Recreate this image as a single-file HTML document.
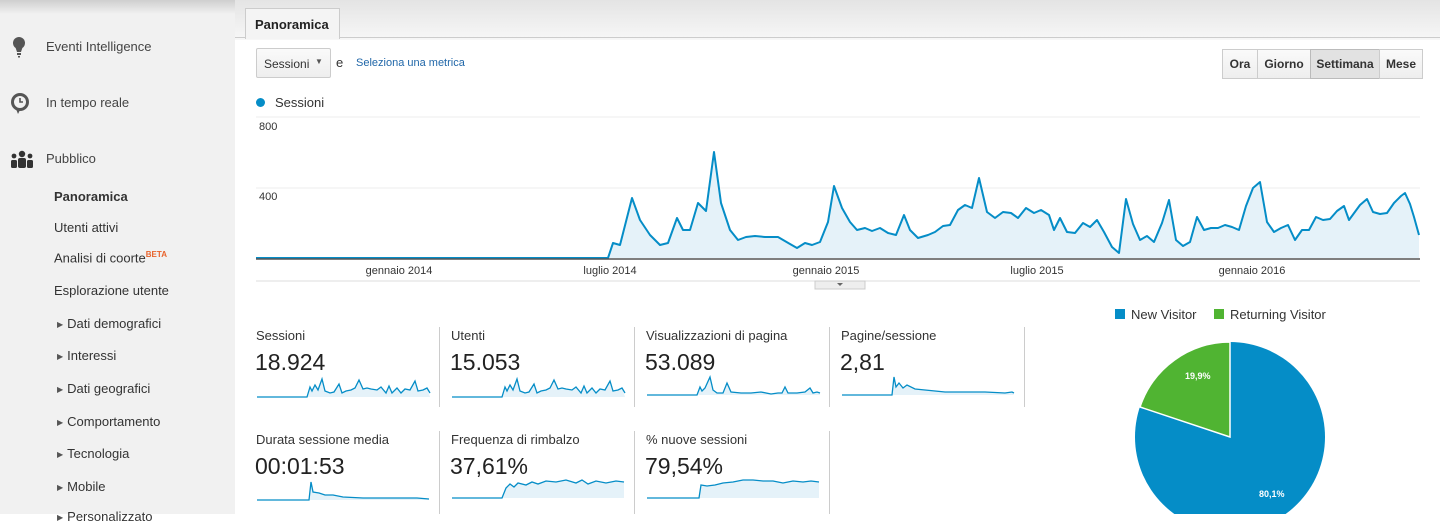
<!DOCTYPE html>
<html><head><meta charset="utf-8"><style>
*{margin:0;padding:0;box-sizing:border-box}
body{width:1440px;height:514px;overflow:hidden;background:#fff;font-family:"Liberation Sans",Arial,sans-serif;position:relative;color:#333}
.a{position:absolute;white-space:nowrap}
#side{position:absolute;left:0;top:0;width:235px;height:514px;background:#f1f1f1}
#topsh{position:absolute;left:0;top:0;width:1440px;height:14px;background:linear-gradient(#cfcfcf,rgba(240,240,240,0))}
.nav{font-size:13px;color:#444}
.sub{font-size:13px;color:#333}
.tri{font-size:8px;color:#555;margin-right:4px;vertical-align:1px}
.btn{position:absolute;top:49px;height:30px;border:1px solid #ccc;background:linear-gradient(#fafafa,#eee);font-size:12px;font-weight:bold;color:#333;text-align:center;line-height:28px}
.ml{font-size:13px;color:#333}
.mv{font-size:23px;color:#222}
.sep{position:absolute;width:1px;background:#ccc}
</style></head><body>
<div id="side"></div>
<div id="topsh"></div>
<div class="a" style="left:235px;top:0;width:1205px;height:40px;background:linear-gradient(#e4e4e4,#f7f7f7)"></div>
<div class="a" style="left:235px;top:37px;width:1205px;height:1px;background:#ccc"></div>
<div class="a" style="left:245px;top:8px;width:95px;height:31px;background:#f4f4f4;border:1px solid #ccc;border-bottom:none;font-weight:bold;font-size:13px;padding:8px 0 0 9px;color:#222">Panoramica</div>

<svg class="a" style="left:10px;top:36px" width="20" height="24"><circle cx="9" cy="7" r="6" fill="#555"/><path d="M5 10 L13 10 L11 16 L7 16Z" fill="#555"/><rect x="7" y="17" width="4" height="2" fill="#555"/><rect x="8" y="20" width="2" height="1.5" fill="#555"/></svg>
<div class="a nav" style="left:46px;top:39px">Eventi Intelligence</div>
<svg class="a" style="left:10px;top:92px" width="22" height="24"><circle cx="10" cy="10" r="9" fill="#555"/><circle cx="10" cy="10" r="6" fill="#f1f1f1"/><path d="M10 6 V10 H13" stroke="#555" stroke-width="1.6" fill="none"/><path d="M6 17 L8 22 L10 18Z" fill="#555"/></svg>
<div class="a nav" style="left:46px;top:95px">In tempo reale</div>
<svg class="a" style="left:10px;top:150px" width="24" height="18"><circle cx="12" cy="4" r="3.2" fill="#333"/><circle cx="4" cy="6" r="2.4" fill="#333"/><circle cx="20" cy="6" r="2.4" fill="#333"/><rect x="8" y="8" width="8" height="10" rx="2" fill="#333"/><rect x="1" y="10" width="6" height="8" rx="1.5" fill="#333"/><rect x="17" y="10" width="6" height="8" rx="1.5" fill="#333"/></svg>
<div class="a nav" style="left:46px;top:151px">Pubblico</div>
<div class="a sub" style="left:54px;top:189px;font-weight:bold">Panoramica</div>
<div class="a sub" style="left:54px;top:220px">Utenti attivi</div>
<div class="a sub" style="left:54px;top:250px">Analisi di coorte<sup style="font-size:8px;color:#e8632c;font-weight:bold">BETA</sup></div>
<div class="a sub" style="left:54px;top:283px">Esplorazione utente</div>
<div class="a sub" style="left:57px;top:316px"><span class="tri">▶</span>Dati demografici</div>
<div class="a sub" style="left:57px;top:348px"><span class="tri">▶</span>Interessi</div>
<div class="a sub" style="left:57px;top:381px"><span class="tri">▶</span>Dati geografici</div>
<div class="a sub" style="left:57px;top:414px"><span class="tri">▶</span>Comportamento</div>
<div class="a sub" style="left:57px;top:446px"><span class="tri">▶</span>Tecnologia</div>
<div class="a sub" style="left:57px;top:479px"><span class="tri">▶</span>Mobile</div>
<div class="a sub" style="left:57px;top:509px"><span class="tri">▶</span>Personalizzato</div>

<div class="a" style="left:256px;top:48px;width:75px;height:30px;border:1px solid #ccc;border-radius:2px;background:linear-gradient(#fafafa,#eee);font-size:12px;padding:8px 0 0 7px;color:#333">Sessioni</div>
<div class="a" style="left:315px;top:57px;font-size:8px;color:#555">▼</div>
<div class="a" style="left:336px;top:55px;font-size:13px">e</div>
<div class="a" style="left:356px;top:57px;font-size:11px;color:#1f66a8">Seleziona una metrica</div>
<div class="btn" style="left:1222px;width:36px">Ora</div>
<div class="btn" style="left:1257px;width:54px">Giorno</div>
<div class="btn" style="left:1310px;width:70px;background:#e2e2e2;border-color:#bbb">Settimana</div>
<div class="btn" style="left:1379px;width:44px">Mese</div>

<div class="a" style="left:256px;top:98px;width:9px;height:9px;border-radius:50%;background:#058dc7"></div>
<div class="a" style="left:275px;top:95px;font-size:13px;color:#333">Sessioni</div>

<svg class="a" style="left:0;top:0" width="1440" height="300">
<line x1="256" y1="117" x2="1420" y2="117" stroke="#eee"/>
<line x1="256" y1="188" x2="1420" y2="188" stroke="#eee"/>
<text x="259" y="130" font-size="11" fill="#333" font-family="Liberation Sans">800</text>
<text x="259" y="200" font-size="11" fill="#333" font-family="Liberation Sans">400</text>
<polygon fill="#e5f2f9" points="256,258 608,258 613,243 620,245 632,198 640,220 650,235 660,245 668,243 677,218 683,230 690,230 698,203 706,211 714,152 721,203 730,230 738,240 746,237 755,236 765,237 778,237 790,244 797,248 805,243 812,245 820,242 828,222 834,186 842,208 850,222 857,230 865,228 872,231 880,228 888,233 896,235 904,215 910,230 918,238 928,235 935,232 943,226 950,225 958,210 965,205 972,208 979,178 987,212 995,218 1003,212 1011,213 1018,218 1026,208 1034,213 1041,210 1049,215 1054,230 1060,218 1067,232 1075,233 1083,223 1090,227 1097,220 1104,232 1112,247 1119,253 1126,199 1133,224 1140,240 1147,236 1154,242 1162,223 1169,200 1176,240 1183,246 1190,242 1197,217 1204,230 1211,228 1218,228 1225,225 1232,227 1239,230 1246,206 1253,188 1260,182 1267,222 1274,232 1281,228 1288,225 1295,240 1302,230 1309,230 1316,217 1323,220 1330,219 1337,211 1344,206 1349,220 1360,205 1367,199 1373,212 1380,214 1387,213 1394,203 1401,196 1405,193 1410,204 1414,217 1419,235 1419,258"/>
<polyline fill="none" stroke="#058dc7" stroke-width="2" stroke-linejoin="round" points="256,258 608,258 613,243 620,245 632,198 640,220 650,235 660,245 668,243 677,218 683,230 690,230 698,203 706,211 714,152 721,203 730,230 738,240 746,237 755,236 765,237 778,237 790,244 797,248 805,243 812,245 820,242 828,222 834,186 842,208 850,222 857,230 865,228 872,231 880,228 888,233 896,235 904,215 910,230 918,238 928,235 935,232 943,226 950,225 958,210 965,205 972,208 979,178 987,212 995,218 1003,212 1011,213 1018,218 1026,208 1034,213 1041,210 1049,215 1054,230 1060,218 1067,232 1075,233 1083,223 1090,227 1097,220 1104,232 1112,247 1119,253 1126,199 1133,224 1140,240 1147,236 1154,242 1162,223 1169,200 1176,240 1183,246 1190,242 1197,217 1204,230 1211,228 1218,228 1225,225 1232,227 1239,230 1246,206 1253,188 1260,182 1267,222 1274,232 1281,228 1288,225 1295,240 1302,230 1309,230 1316,217 1323,220 1330,219 1337,211 1344,206 1349,220 1360,205 1367,199 1373,212 1380,214 1387,213 1394,203 1401,196 1405,193 1410,204 1414,217 1419,235"/>
<line x1="256" y1="259" x2="1420" y2="259" stroke="#555" stroke-width="1.5"/>
<g font-size="11" fill="#333" font-family="Liberation Sans" text-anchor="middle">
<text x="399" y="274">gennaio 2014</text><text x="610" y="274">luglio 2014</text><text x="826" y="274">gennaio 2015</text><text x="1037" y="274">luglio 2015</text><text x="1252" y="274">gennaio 2016</text></g>
<line x1="256" y1="281" x2="1420" y2="281" stroke="#ddd"/>
<rect x="815" y="281" width="50" height="8" fill="#eee" stroke="#ccc"/>
<path d="M837 283 L843 283 L840 286Z" fill="#666"/>
</svg>

<div class="a ml" style="left:256px;top:328px">Sessioni</div><div class="a mv" style="left:255px;top:349px">18.924</div>
<div class="a ml" style="left:451px;top:328px">Utenti</div><div class="a mv" style="left:450px;top:349px">15.053</div>
<div class="a ml" style="left:646px;top:328px">Visualizzazioni di pagina</div><div class="a mv" style="left:645px;top:349px">53.089</div>
<div class="a ml" style="left:841px;top:328px">Pagine/sessione</div><div class="a mv" style="left:840px;top:349px">2,81</div>
<div class="a ml" style="left:256px;top:432px">Durata sessione media</div><div class="a mv" style="left:255px;top:453px">00:01:53</div>
<div class="a ml" style="left:451px;top:432px">Frequenza di rimbalzo</div><div class="a mv" style="left:450px;top:453px">37,61%</div>
<div class="a ml" style="left:646px;top:432px">% nuove sessioni</div><div class="a mv" style="left:645px;top:453px">79,54%</div>
<div class="sep" style="left:439px;top:327px;height:80px"></div>
<div class="sep" style="left:634px;top:327px;height:80px"></div>
<div class="sep" style="left:829px;top:327px;height:80px"></div>
<div class="sep" style="left:1024px;top:327px;height:80px"></div>
<div class="sep" style="left:439px;top:431px;height:83px"></div>
<div class="sep" style="left:634px;top:431px;height:83px"></div>
<div class="sep" style="left:829px;top:431px;height:83px"></div>

<svg class="a" style="left:0;top:0" width="1100" height="514">
<defs>
<g id="s1"><polygon fill="#e5f2f9" points="0,20 50,20 53,10 55,14 58,8 61,13 65,2 68,14 73,16 77,15 82,7 85,16 89,14 94,13 98,11 102,3 106,12 110,11 114,12 120,13 124,10 129,16 132,9 135,16 140,11 144,16 148,12 153,13 158,4 161,14 166,13 170,11 173,20"/><polyline fill="none" stroke="#058dc7" stroke-width="1.3" points="0,20 50,20 53,10 55,14 58,8 61,13 65,2 68,14 73,16 77,15 82,7 85,16 89,14 94,13 98,11 102,3 106,12 110,11 114,12 120,13 124,10 129,16 132,9 135,16 140,11 144,16 148,12 153,13 158,4 161,14 166,13 170,11 173,16"/></g>
<g id="s3"><polygon fill="#e5f2f9" points="0,20 50,20 53,12 55,16 58,13 63,2 66,15 70,18 76,18 80,8 84,17 94,18 104,18 114,17 124,19 131,18 135,18 138,12 141,18 150,18 158,17 163,13 166,18 170,17 173,18 173,20"/><polyline fill="none" stroke="#058dc7" stroke-width="1.3" points="0,20 50,20 53,12 55,16 58,13 63,2 66,15 70,18 76,18 80,8 84,17 94,18 104,18 114,17 124,19 131,18 135,18 138,12 141,18 150,18 158,17 163,13 166,18 170,17 173,18"/></g>
<g id="s4"><polygon fill="#e5f2f9" points="0,20 50,20 52,2 54,12 57,8 61,13 65,10 73,14 83,15 93,16 103,17 123,17 143,17 163,18 170,17 172,20"/><polyline fill="none" stroke="#058dc7" stroke-width="1.3" points="0,20 50,20 52,2 54,12 57,8 61,13 65,10 73,14 83,15 93,16 103,17 123,17 143,17 163,18 170,17 172,18"/></g>
<g id="s6"><polygon fill="#e5f2f9" points="0,20 50,20 54,10 58,6 62,9 66,5 74,7 80,4 86,6 94,3 104,4 114,2 124,5 130,2 136,6 144,3 154,5 164,3 172,4 172,20"/><polyline fill="none" stroke="#058dc7" stroke-width="1.3" points="0,20 50,20 54,10 58,6 62,9 66,5 74,7 80,4 86,6 94,3 104,4 114,2 124,5 130,2 136,6 144,3 154,5 164,3 172,4"/></g>
<g id="s7"><polygon fill="#e5f2f9" points="0,20 52,20 54,7 60,8 68,7 76,5 86,4 96,2 106,2 116,3 126,3 136,5 146,3 156,4 164,3 172,4 172,20"/><polyline fill="none" stroke="#058dc7" stroke-width="1.3" points="0,20 52,20 54,7 60,8 68,7 76,5 86,4 96,2 106,2 116,3 126,3 136,5 146,3 156,4 164,3 172,4"/></g>
</defs>
<use href="#s1" transform="translate(257,377)"/>
<use href="#s1" transform="translate(452,377)"/>
<use href="#s3" transform="translate(647,375)"/>
<use href="#s4" transform="translate(842,375)"/>
<g transform="translate(257,480)"><polygon fill="#e5f2f9" points="0,20 52,20 54,2 56,12 62,13 68,15 76,15 86,17 106,18 126,18 146,18 160,18 172,19 172,20"/><polyline fill="none" stroke="#058dc7" stroke-width="1.3" points="0,20 52,20 54,2 56,12 62,13 68,15 76,15 86,17 106,18 126,18 146,18 160,18 172,19"/></g>
<use href="#s6" transform="translate(452,478)"/>
<use href="#s7" transform="translate(647,478)"/>
</svg>

<div class="a" style="left:1115px;top:309px;width:10px;height:10px;background:#058dc7"></div>
<div class="a" style="left:1131px;top:307px;font-size:13px;color:#333">New Visitor</div>
<div class="a" style="left:1214px;top:309px;width:10px;height:10px;background:#50b432"></div>
<div class="a" style="left:1230px;top:307px;font-size:13px;color:#333">Returning Visitor</div>
<svg class="a" style="left:0;top:0" width="1440" height="514">
<circle cx="1230" cy="437" r="95" fill="#058dc7"/>
<path d="M1230 437 L1140 407 A95 95 0 0 1 1230 342 Z" fill="#50b432" stroke="#fff" stroke-width="1.5"/>
<text x="1185" y="379" font-size="9" font-weight="bold" fill="#fff" font-family="Liberation Sans">19,9%</text>
<text x="1259" y="497" font-size="9" font-weight="bold" fill="#fff" font-family="Liberation Sans">80,1%</text>
</svg>
</body></html>
